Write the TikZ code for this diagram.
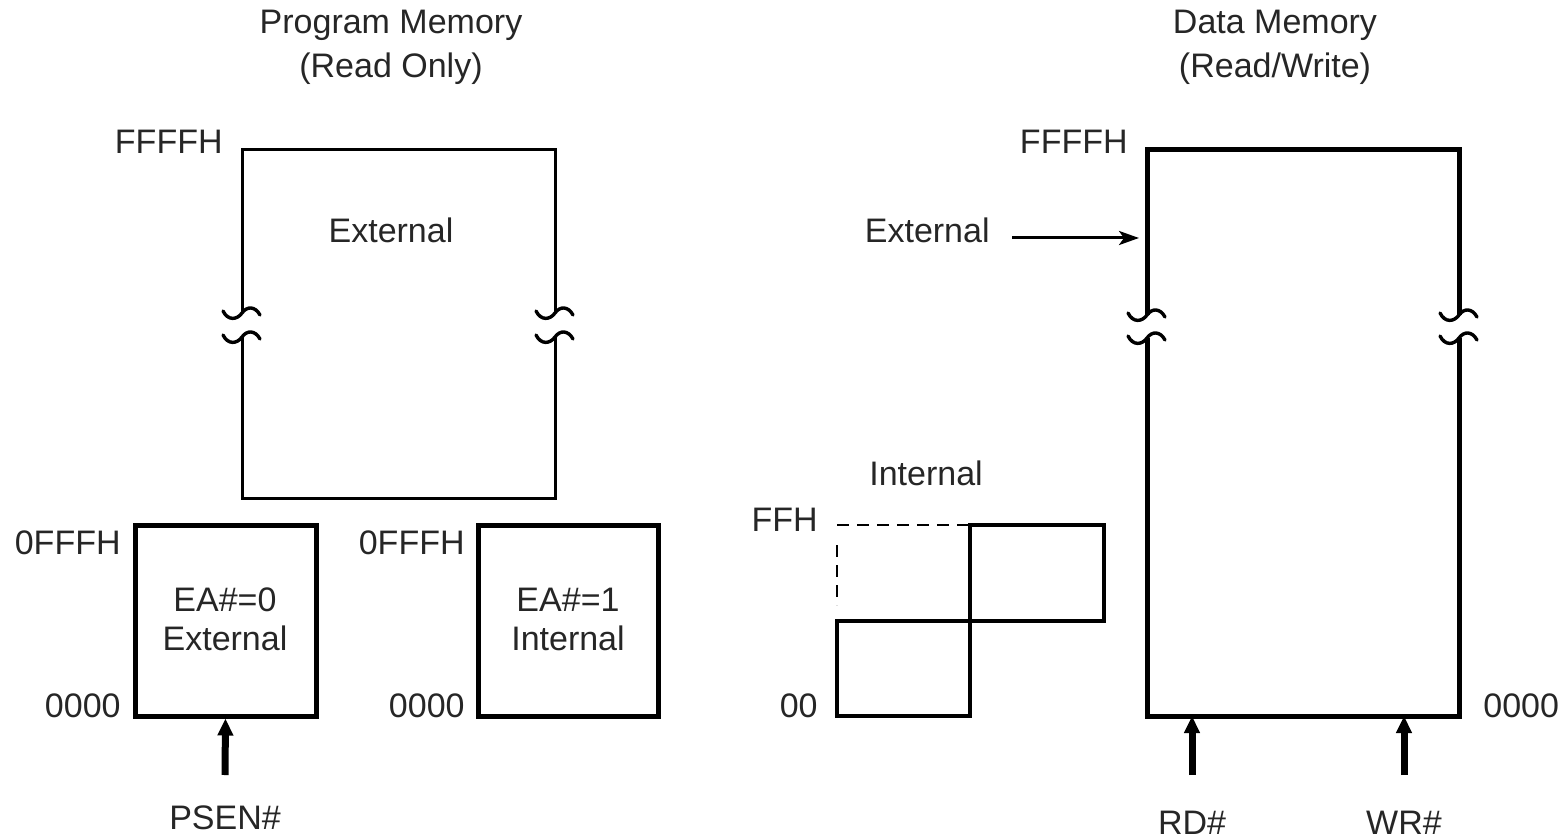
\documentclass[tikz,border=0pt]{standalone}
\usepackage{fontspec}
\setmainfont{Liberation Sans}
\usetikzlibrary{arrows.meta}
\begin{document}
\begin{tikzpicture}[x=0.5pt,y=-0.5pt,
  lbl/.style={font=\fontsize{17}{20}\selectfont, text=black!85, inner sep=0pt, anchor=base},
  lbll/.style={lbl, anchor=base east},
  lblr/.style={lbl, anchor=base west},
  thinbox/.style={line width=1.5pt},
  thickbox/.style={line width=2.5pt},
  midbox/.style={line width=2pt},
  wave/.style={line width=1.7pt},
  sigarrow/.style={line width=3.5pt, -{Triangle[length=8.5pt,width=7.5pt]}},
  ptrarrow/.style={line width=1.5pt, -{Stealth[length=10pt,width=7pt,inset=2.5pt]}},
  brk/.pic={\draw[line cap=round] (-19,-2) .. controls (-14,8) and (-5,7) .. (0,0)
            .. controls (5,-7) and (13,-7) .. (18,2);}
]
\useasboundingbox (0,0) rectangle (1566,839);

% ---------- Program memory ----------
\node[lbl] (pmtitle) at (391,34) {Program Memory};
\node[lbl] (pmsub) at (391,78) {(Read Only)};
\node[lbll] (pmtop) at (223,154) {FFFFH};
\node[lbl] (pmext) at (391,243) {External};

% upper external region, broken on both sides
\coordinate (pA) at (242,313);
\coordinate (pB) at (242,337);
\coordinate (pC) at (555,313);
\coordinate (pD) at (555,337);
\draw[thinbox] (pA) -- (242,150) -- (555,150) -- (pC);
\draw[thinbox] (pB) -- (242,498) -- (555,498) -- (pD);
\foreach \c in {pA,pB,pC,pD} \pic[wave] at (\c) {brk};

% EA#=0 block
\node[draw, thickbox, minimum width=181*0.5pt, minimum height=191*0.5pt, inner sep=0pt]
  (ea0) at (225.5,620.5) {};
\node[lbl] at (225,611) {EA\#=0};
\node[lbl] at (225,650) {External};
\node[lbll] at (121,554) {0FFFH};
\node[lbll] at (121,717) {0000};
\coordinate (psenfrom) at (225,775);
\draw[sigarrow] (psenfrom) -- (ea0.south);
\node[lbl] (psen) at (225,829) {PSEN\#};

% EA#=1 block
\node[draw, thickbox, minimum width=180*0.5pt, minimum height=191*0.5pt, inner sep=0pt]
  (ea1) at (568,620.5) {};
\node[lbl] at (568,611) {EA\#=1};
\node[lbl] at (568,650) {Internal};
\node[lbll] at (465,554) {0FFFH};
\node[lbll] at (465,717) {0000};

% ---------- Data memory ----------
\node[lbl] (dmtitle) at (1275,34) {Data Memory};
\node[lbl] (dmsub) at (1275,78) {(Read/Write)};
\node[lbll] at (1128,154) {FFFFH};
\node[lblr] at (1483,717) {0000};

\coordinate (dA) at (1147,315);
\coordinate (dB) at (1147,338);
\coordinate (dC) at (1459,315);
\coordinate (dD) at (1459,338);
\draw[thickbox] (dA) -- (1147,150) -- (1459,150) -- (dC);
\draw[thickbox] (dB) -- (1147,716) -- (1459,716) -- (dD);
\foreach \c in {dA,dB,dC,dD} \pic[wave] at (\c) {brk};

\node[lbll] (dext) at (990,243) {External};
\coordinate (dextfrom) at (1012,238);
\coordinate (dextto) at (1139,238);
\draw[ptrarrow] (dextfrom) -- (dextto);

\coordinate (rdfrom) at (1192,775);
\coordinate (wrfrom) at (1404,775);
\coordinate (rdto) at (1192,716);
\coordinate (wrto) at (1404,716);
\draw[sigarrow] (rdfrom) -- (rdto);
\draw[sigarrow] (wrfrom) -- (wrto);
\node[lbl] (rd) at (1192,834) {RD\#};
\node[lbl] (wr) at (1404,834) {WR\#};

% internal data RAM
\node[lbl] (intl) at (926,485) {Internal};
\node[lbll] at (818,531) {FFH};
\node[lbll] at (818,717) {00};
\draw[midbox] (837,621) rectangle (970,716);
\draw[midbox] (970,525) rectangle (1104,621);
\draw[line width=1pt, dash pattern=on 6pt off 4pt] (837,525) -- (970,525);
\draw[line width=1pt, dash pattern=on 6pt off 4pt] (837,545) -- (837,605);
\end{tikzpicture}
\end{document}
